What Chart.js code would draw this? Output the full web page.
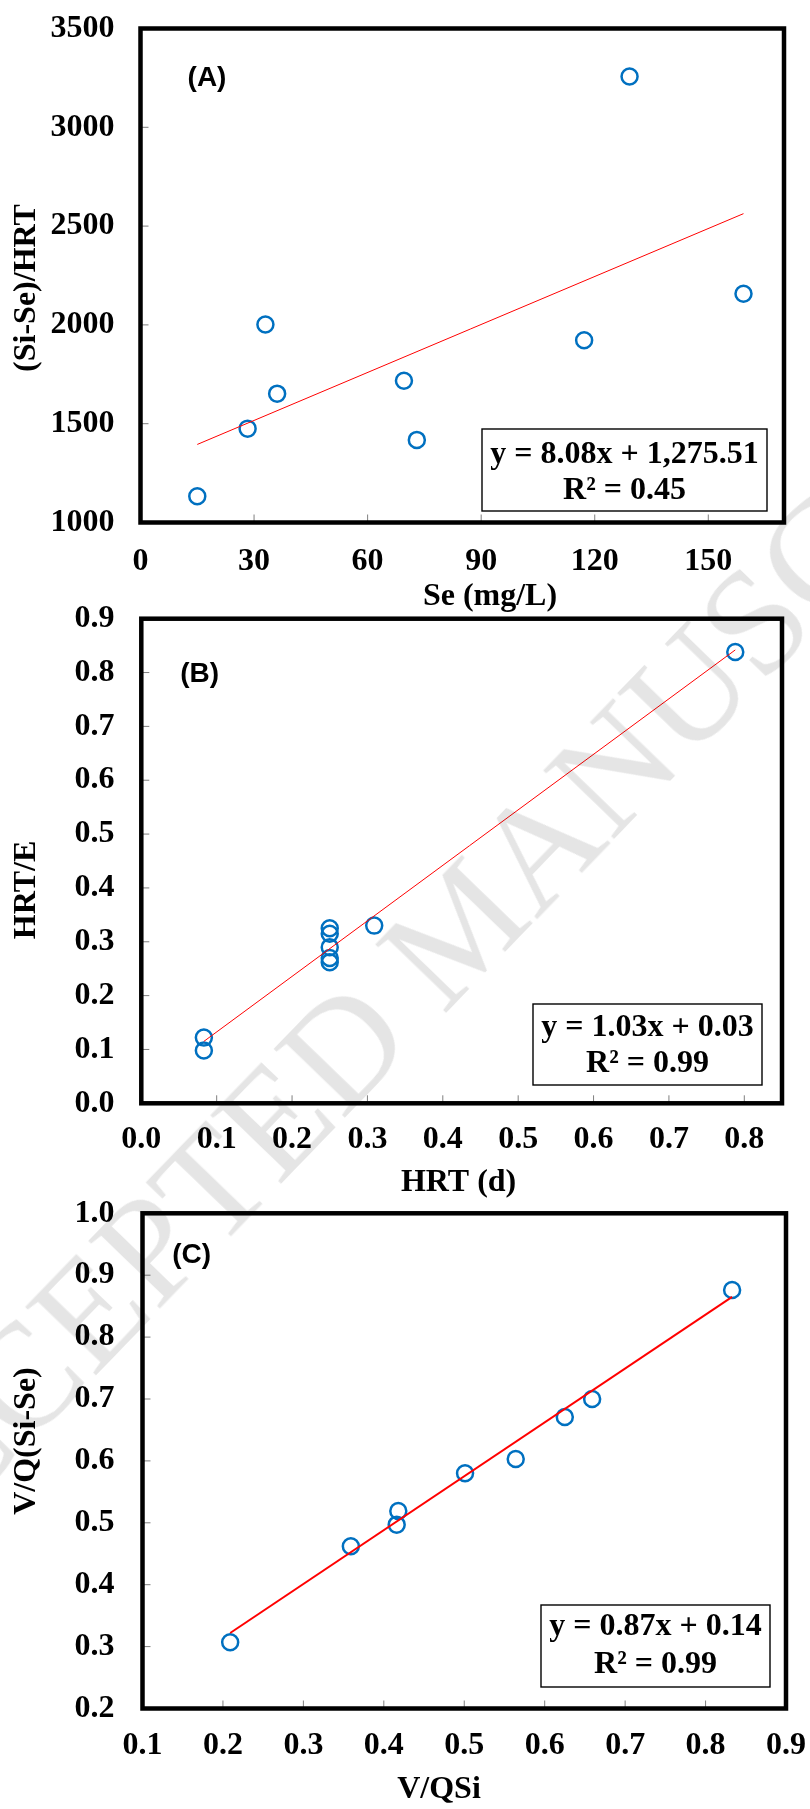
<!DOCTYPE html>
<html>
<head>
<meta charset="utf-8">
<title>Panels A-C</title>
<script src="https://cdn.jsdelivr.net/npm/chart.js@4.4.1/dist/chart.umd.min.js"></script>
<style>
  html, body { margin: 0; padding: 0; background: #fff; }
  #page { position: relative; width: 810px; height: 1809px; overflow: hidden; background: #fff; }
  #page canvas { position: absolute; left: 0; }
  #stamp {
    position: absolute;
    left: 460px;
    top: 925px;
    transform: translate(-50%, -50%) rotate(-46deg);
    font: 150px "Liberation Serif", "Times New Roman", serif;
    line-height: 1;
    white-space: nowrap;
    color: rgba(0, 0, 0, 0.1);
    pointer-events: none;
  }
</style>
</head>
<body>
<div id="page">
  <canvas id="panel-a"></canvas>
  <canvas id="panel-b"></canvas>
  <canvas id="panel-c"></canvas>
  <div id="stamp">ACCEPTED MANUSCRIPT</div>
</div>
<script>
// (A) Se vs (Si-Se)/HRT
const seA = [15.0, 28.3, 33.0, 36.1, 69.6, 73.0, 117.2, 129.2, 159.3];
const rateA = [1133, 1475, 2002, 1652, 1717, 1418, 1922, 3257, 2158];
const fitXA = [15.0, 159.3];
const fitYA = [1395, 2563];
const xTicksA = [0, 30, 60, 90, 120, 150];
const yTicksA = [1000, 1500, 2000, 2500, 3000, 3500];

// (B) HRT vs HRT/E
const hrtB = [0.083, 0.083, 0.25, 0.25, 0.25, 0.25, 0.25, 0.309, 0.788];
const hrtEB = [0.122, 0.098, 0.325, 0.315, 0.29, 0.27, 0.262, 0.33, 0.838];
const fitXB = [0.083, 0.788];
const fitYB = [0.115, 0.842];
const xTicksB = [0, 0.1, 0.2, 0.3, 0.4, 0.5, 0.6, 0.7, 0.8];
const yTicksB = [0, 0.1, 0.2, 0.3, 0.4, 0.5, 0.6, 0.7, 0.8, 0.9];

// (C) V/QSi vs V/Q(Si-Se)
const vqsiC = [0.209, 0.359, 0.416, 0.418, 0.501, 0.564, 0.625, 0.659, 0.833];
const vqC = [0.307, 0.462, 0.497, 0.519, 0.58, 0.603, 0.671, 0.7, 0.876];
const fitXC = [0.209, 0.833];
const fitYC = [0.322, 0.865];
const xTicksC = [0.1, 0.2, 0.3, 0.4, 0.5, 0.6, 0.7, 0.8, 0.9];
const yTicksC = [0.2, 0.3, 0.4, 0.5, 0.6, 0.7, 0.8, 0.9, 1.0];

const serif = '"Times New Roman", "Liberation Serif", serif';
const tickFont = { family: serif, size: 32, weight: 'bold', lineHeight: 1.2 };
const X_AXIS_H = 60;

function makePanel(cfg) {
  const canvas = document.getElementById(cfg.id);
  canvas.width = 810;
  canvas.height = cfg.height;
  canvas.style.top = cfg.top + 'px';
  const area = cfg.area;
  const top = cfg.top;

  // frame, inner ticks, tag, equation box and axis titles
  const decor = {
    id: 'decor-' + cfg.id,
    afterDatasetsDraw(chart) {
      const { ctx, chartArea: a, scales: { x, y } } = chart;
      ctx.save();

      ctx.strokeStyle = '#7f7f7f';
      ctx.lineWidth = 1;
      ctx.beginPath();
      x.ticks.forEach((t) => {
        const px = x.getPixelForValue(t.value);
        ctx.moveTo(px, a.bottom);
        ctx.lineTo(px, a.bottom - 8);
      });
      y.ticks.forEach((t) => {
        const py = y.getPixelForValue(t.value);
        ctx.moveTo(a.left, py);
        ctx.lineTo(a.left + 8, py);
      });
      ctx.stroke();

      ctx.strokeStyle = '#000';
      ctx.lineWidth = 4.5;
      ctx.strokeRect(a.left, a.top, a.right - a.left, a.bottom - a.top);

      ctx.fillStyle = '#000';
      ctx.textAlign = 'center';
      ctx.textBaseline = 'middle';
      ctx.font = 'bold 28px "Liberation Sans", Arial, sans-serif';
      ctx.fillText(cfg.tag, cfg.tagPos[0], cfg.tagPos[1] - top);

      const [bx0, by0, bx1, by1] = cfg.box;
      ctx.fillStyle = '#fff';
      ctx.fillRect(bx0, by0 - top, bx1 - bx0, by1 - by0);
      ctx.strokeStyle = '#000';
      ctx.lineWidth = 1.4;
      ctx.strokeRect(bx0, by0 - top, bx1 - bx0, by1 - by0);
      ctx.fillStyle = '#000';
      ctx.font = 'bold 32px ' + serif;
      cfg.equation.forEach((line, i) => {
        ctx.fillText(line, (bx0 + bx1) / 2, cfg.eqLines[i] - top);
      });

      ctx.fillText(cfg.xTitle, cfg.xTitlePos[0], cfg.xTitlePos[1] - top);
      ctx.translate(cfg.yTitlePos[0], cfg.yTitlePos[1] - top);
      ctx.rotate(-Math.PI / 2);
      ctx.fillText(cfg.yTitle, 0, 0);

      ctx.restore();
    }
  };

  return new Chart(canvas, {
    type: 'scatter',
    data: {
      datasets: [
        {
          label: 'fit',
          data: cfg.fitX.map((v, i) => ({ x: v, y: cfg.fitY[i] })),
          showLine: true,
          borderColor: '#ff0000',
          borderWidth: cfg.fitWidth,
          pointRadius: 0,
          order: 0
        },
        {
          label: 'data',
          data: cfg.xs.map((v, i) => ({ x: v, y: cfg.ys[i] })),
          pointStyle: 'circle',
          pointRadius: 8,
          pointHoverRadius: 8,
          borderWidth: 2.5,
          borderColor: '#0070c0',
          backgroundColor: 'rgba(255,255,255,0)',
          order: 1
        }
      ]
    },
    options: {
      responsive: false,
      animation: false,
      events: [],
      layout: {
        padding: {
          left: 0,
          top: area.top - top,
          right: 810 - area.right,
          bottom: cfg.height - (area.bottom - top) - X_AXIS_H
        }
      },
      plugins: { legend: { display: false }, tooltip: { enabled: false } },
      scales: {
        x: {
          type: 'linear',
          min: cfg.xRange[0],
          max: cfg.xRange[1],
          grid: { display: false, drawTicks: false },
          border: { display: false },
          ticks: {
            font: tickFont,
            color: '#000',
            padding: cfg.xLabelGap - 19.2,
            maxRotation: 0,
            autoSkip: false,
            callback: (v) => Number(v).toFixed(cfg.digits)
          },
          afterBuildTicks: (s) => { s.ticks = cfg.xTicks.map((v) => ({ value: v })); },
          afterFit: (s) => { s.height = X_AXIS_H; s.paddingLeft = 0; s.paddingRight = 0; }
        },
        y: {
          type: 'linear',
          min: cfg.yRange[0],
          max: cfg.yRange[1],
          grid: { display: false, drawTicks: false },
          border: { display: false },
          ticks: {
            font: tickFont,
            color: '#000',
            padding: area.left - 114.5,
            autoSkip: false,
            callback: (v) => Number(v).toFixed(cfg.digits)
          },
          afterBuildTicks: (s) => { s.ticks = cfg.yTicks.map((v) => ({ value: v })); },
          afterFit: (s) => { s.width = area.left; s.paddingTop = 0; s.paddingBottom = 0; }
        }
      }
    },
    plugins: [decor]
  });
}

makePanel({
  id: 'panel-a', top: 0, height: 620,
  area: { left: 140.5, right: 784, top: 28.5, bottom: 522.5 },
  xs: seA, ys: rateA, fitX: fitXA, fitY: fitYA, fitWidth: 1,
  xTicks: xTicksA, yTicks: yTicksA, xRange: [0, 170], yRange: [1000, 3500], digits: 0,
  xLabelGap: 39, tag: '(A)', tagPos: [207, 78],
  box: [482, 429, 767, 511], eqLines: [455, 491],
  equation: ['y = 8.08x + 1,275.51', 'R² = 0.45'],
  xTitle: 'Se (mg/L)', xTitlePos: [490, 597],
  yTitle: '(Si-Se)/HRT', yTitlePos: [27, 288]
});

makePanel({
  id: 'panel-b', top: 580, height: 630,
  area: { left: 141.3, right: 782, top: 618.7, bottom: 1103.3 },
  xs: hrtB, ys: hrtEB, fitX: fitXB, fitY: fitYB, fitWidth: 1,
  xTicks: xTicksB, yTicks: yTicksB, xRange: [0, 0.85], yRange: [0, 0.9], digits: 1,
  xLabelGap: 36, tag: '(B)', tagPos: [199.7, 674.6],
  box: [533, 1004, 762, 1085], eqLines: [1028, 1064],
  equation: ['y = 1.03x + 0.03', 'R² = 0.99'],
  xTitle: 'HRT (d)', xTitlePos: [458.6, 1183],
  yTitle: 'HRT/E', yTitlePos: [27, 890]
});

makePanel({
  id: 'panel-c', top: 1170, height: 639,
  area: { left: 142.5, right: 786, top: 1213.3, bottom: 1708.5 },
  xs: vqsiC, ys: vqC, fitX: fitXC, fitY: fitYC, fitWidth: 2,
  xTicks: xTicksC, yTicks: yTicksC, xRange: [0.1, 0.9], yRange: [0.2, 1.0], digits: 1,
  xLabelGap: 37, tag: '(C)', tagPos: [191.7, 1255],
  box: [541, 1605, 770, 1687], eqLines: [1627, 1665],
  equation: ['y = 0.87x + 0.14', 'R² = 0.99'],
  xTitle: 'V/QSi', xTitlePos: [439, 1790],
  yTitle: 'V/Q(Si-Se)', yTitlePos: [27, 1441]
});
</script>
</body>
</html>
